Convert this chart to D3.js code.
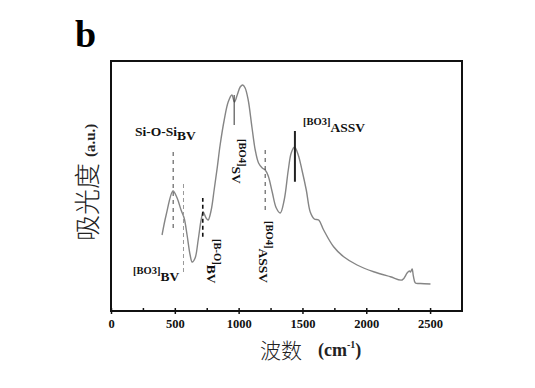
<!DOCTYPE html>
<html><head><meta charset="utf-8">
<script src="https://d3js.org/d3.v7.min.js"></script>
<style>body{margin:0;background:#fff}svg{display:block}</style>
</head><body><svg id="c" width="535" height="388"></svg>
<script>
// wavenumber (cm^-1)
const wavenumbers = [400,432,486,518,549,573,596,620,636,659,683,706,722,745,761,785,808,832,855,887,918,947,967,989,1012,1033,1051,1075,1104,1130,1156,1185,1208,1232,1263,1295,1326,1357,1389,1412,1438,1467,1496,1530,1561,1593,1627,1666,1744,1823,1928,2058,2189,2281,2320,2338,2346,2359,2369,2385,2424,2503];
// absorbance (a.u.)
const absorbance = [30.4,38.4,48,45.2,40.4,37.2,30.4,22.4,19.6,21.2,28.4,36.4,39.6,37.2,36.4,40.4,48.4,57.2,66.4,76.4,83.6,86.4,83.6,86.4,89.6,90.4,89.2,84.4,73.6,64.4,59.2,57.2,56.4,54,47.6,41.2,39.2,44.4,56.4,63.2,65.6,62.4,56.4,48.4,39.6,36.8,36.4,32.4,25.7,21.7,18.4,15.7,13.7,12.4,15.2,16,15.6,16.8,14,11.2,11,10.8];
const xTicks = [0,500,1000,1500,2000,2500];
const xMinorTicks = [250,750,1250,1750,2250];
// marker lines
const markerX = [487,568,719,965,1208,1441];
const markerY0 = [33.2,15.6,29.7,74.4,40.4,51.7];
const markerY1 = [63.6,51.6,45.2,86.4,65.7,72];
const markerStyle = ["dash","dashLight","dashBold","solid","dash","solidBold"];

const svg = d3.select("#c");
const L=111, R=462, T=61, B=311;
const x = d3.scaleLinear().domain([0,2750]).range([L,R]);
const y = d3.scaleLinear().domain([0,100]).range([B,T]);
const serif = "'Liberation Serif','Times New Roman',serif";
const cjk = "'Noto Sans CJK SC','Noto Sans CJK JP',sans-serif";

// panel letter
svg.append("text").attr("x",75).attr("y",47).attr("font-family",serif).attr("font-weight","bold").attr("font-size",38).text("b");

// curve
const line = d3.line().x((d,i)=>x(wavenumbers[i])).y(d=>y(d)).curve(d3.curveCatmullRom.alpha(0.5));
svg.append("path").datum(absorbance).attr("d",line).attr("fill","none").attr("stroke","#858585").attr("stroke-width",1.4);

// markers
markerX.forEach((m,i)=>{
  const s = markerStyle[i];
  const l = svg.append("line").attr("x1",x(m)).attr("x2",x(m)).attr("y1",y(markerY0[i])).attr("y2",y(markerY1[i]));
  if(s==="dash") l.attr("stroke","#444").attr("stroke-width",1).attr("stroke-dasharray","4,4");
  if(s==="dashLight") l.attr("stroke","#999").attr("stroke-width",1).attr("stroke-dasharray","4,3");
  if(s==="dashBold") l.attr("stroke","#111").attr("stroke-width",1.6).attr("stroke-dasharray","4,3");
  if(s==="solid") l.attr("stroke","#333").attr("stroke-width",1);
  if(s==="solidBold") l.attr("stroke","#222").attr("stroke-width",2);
});

// frame
svg.append("rect").attr("x",L).attr("y",T).attr("width",R-L).attr("height",B-T).attr("fill","none").attr("stroke","#111").attr("stroke-width",2);

// x axis
const ax = svg.append("g").attr("transform",`translate(0,${B})`)
  .call(d3.axisBottom(x).tickValues(xTicks).tickSize(4).tickFormat(d3.format("d")));
ax.select(".domain").remove();
ax.selectAll(".tick line").attr("stroke","#111").attr("stroke-width",1.5).attr("y1",-3).attr("y2",3);
ax.selectAll(".tick text").attr("font-family",serif).attr("font-weight","bold").attr("font-size",12.5).attr("fill","#111").attr("dy",0).attr("y",17);
const axm = svg.append("g").attr("transform",`translate(0,${B})`)
  .call(d3.axisBottom(x).tickValues(xMinorTicks).tickSize(3).tickFormat(""));
axm.select(".domain").remove();
axm.selectAll(".tick line").attr("stroke","#111").attr("stroke-width",1.5).attr("y1",-3).attr("y2",1);

// x title
const xt = svg.append("text").attr("x",260).attr("y",358).attr("fill","#222");
xt.append("tspan").attr("font-family",cjk).attr("font-size",21).attr("font-weight",300).text("波数");
xt.append("tspan").attr("font-family",serif).attr("font-weight","bold").attr("font-size",18).attr("dx",16).attr("dy",-2).text("(cm");
xt.append("tspan").attr("font-family",serif).attr("font-weight","bold").attr("font-size",10).attr("dy",-8).text("-1");
xt.append("tspan").attr("font-family",serif).attr("font-weight","bold").attr("font-size",18).attr("dy",8).text(")");

// y title
const yt = svg.append("text").attr("transform","translate(97,241) rotate(-90)").attr("fill","#222");
yt.append("tspan").attr("font-family",cjk).attr("font-size",26).attr("font-weight",300).text("吸光度");
yt.append("tspan").attr("font-family",serif).attr("font-weight","bold").attr("font-size",15).attr("dx",6).attr("dy",-2).text("(a.u.)");

// annotations
function label(tx,ty,rot,main,sub,mainSize,subDy){
  const t = svg.append("text").attr("transform",`translate(${tx},${ty})`+(rot?` rotate(${rot})`:"")).attr("font-family",serif).attr("fill","#111");
  t.append("tspan").attr("font-size",mainSize).attr("font-weight","bold").text(main);
  t.append("tspan").attr("font-size",13.5).attr("font-weight","bold").attr("dy",subDy).text(sub);
}
label(135,136,0,"Si-O-Si","BV",13.5,4);
label(133,274,0,"[BO3]","BV",10.5,7);
label(303,125,0,"[BO3]","ASSV",10.5,7);
label(214,239,90,"[B-O]","BV",10.5,7);
label(239,139,90,"[BO4]","SV",10.5,7);
label(266,221,90,"[BO4]","ASSV",10.5,7);
</script></body></html>
